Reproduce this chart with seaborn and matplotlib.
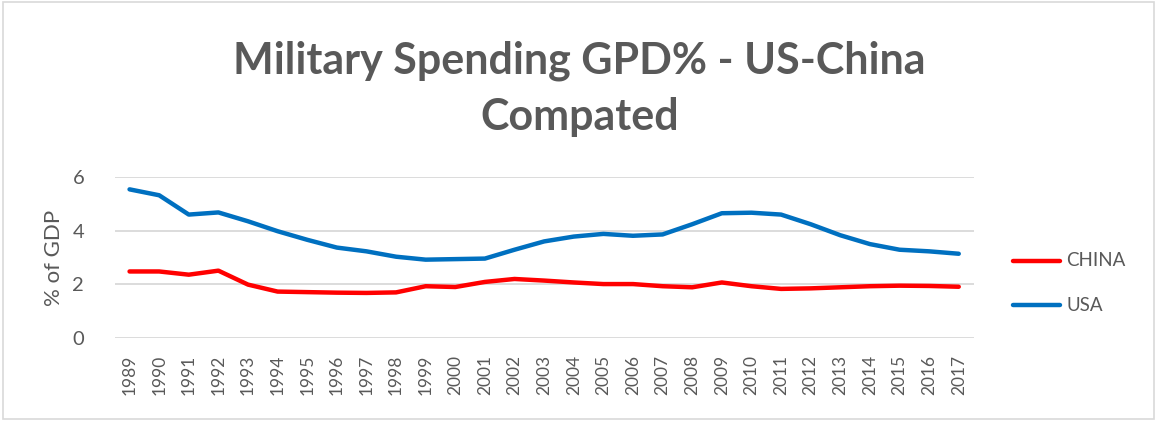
import matplotlib
matplotlib.use("Agg")
import numpy as np
import pandas as pd
import matplotlib.pyplot as plt
from matplotlib.patches import Rectangle
import seaborn as sns

years = list(range(1989, 2018))
china = [2.48, 2.48, 2.36, 2.51, 1.99, 1.73, 1.71, 1.69, 1.68, 1.70,
         1.93, 1.90, 2.09, 2.20, 2.14, 2.07, 2.01, 2.01, 1.93, 1.89,
         2.07, 1.93, 1.83, 1.85, 1.89, 1.93, 1.95, 1.94, 1.91]
usa = [5.54, 5.32, 4.60, 4.68, 4.35, 3.98, 3.66, 3.37, 3.23, 3.03,
       2.92, 2.94, 2.96, 3.29, 3.60, 3.78, 3.88, 3.81, 3.86, 4.24,
       4.65, 4.67, 4.60, 4.24, 3.83, 3.50, 3.29, 3.23, 3.14]
y_ticks = [0, 2, 4, 6]
title_lines = ["Military Spending GPD% - US-China", "Compated"]

TXT = "#595959"
GRID = "#d9d9d9"
COLORS = {"CHINA": "#ff0000", "USA": "#0070c0"}

df = pd.DataFrame({
    "year": years * 2,
    "value": china + usa,
    "country": ["CHINA"] * len(years) + ["USA"] * len(years),
})

sns.set_style("white")
plt.rcParams["font.family"] = ["Lato", "DejaVu Sans"]

fig = plt.figure(figsize=(11.59, 4.25), dpi=100)
ax = fig.add_axes([0.099, 0.2047, 0.741, 0.3788])

sns.lineplot(data=df, x="year", y="value", hue="country", palette=COLORS,
             linewidth=3.2, ax=ax, legend=False, solid_capstyle="round")

ax.set_xlim(years[0] - 0.5, years[-1] + 0.5)
ax.set_ylim(0, 6)
ax.set_yticks(y_ticks)
ax.set_yticklabels([str(t) for t in y_ticks], color=TXT, fontsize=14.5)
ax.set_xticks(years)
ax.set_xticklabels([str(y) for y in years], rotation=90, color=TXT, fontsize=12.5)
ax.tick_params(axis="x", length=0, pad=12)
ax.tick_params(axis="y", length=0, pad=22)
ax.grid(axis="y", color=GRID, lw=1.3)
ax.set_axisbelow(True)
for s in ax.spines.values():
    s.set_visible(False)
ax.set_xlabel("")
ax.set_ylabel("% of GDP", color=TXT, fontsize=16, labelpad=6)

# two-line title, baselines placed separately for Excel-like spacing
for line, yb in zip(title_lines, [0.828, 0.694]):
    fig.text(0.5, yb, line, ha="center", va="baseline", fontsize=31,
             fontweight="bold", color=TXT)

# manual legend on the right
for name, yy in [("CHINA", 0.386), ("USA", 0.282)]:
    fig.add_artist(plt.Line2D([0.874, 0.915], [yy, yy], color=COLORS[name],
                              lw=3.2, solid_capstyle="round",
                              transform=fig.transFigure))
    fig.text(0.920, yy, name, color=TXT, fontsize=13.5, va="center", ha="left")

fig.add_artist(Rectangle((0.003, 0.015), 0.993, 0.98, fill=False,
                         edgecolor=GRID, lw=1.2, transform=fig.transFigure))

fig.savefig("out.png", dpi=100, facecolor="white")
